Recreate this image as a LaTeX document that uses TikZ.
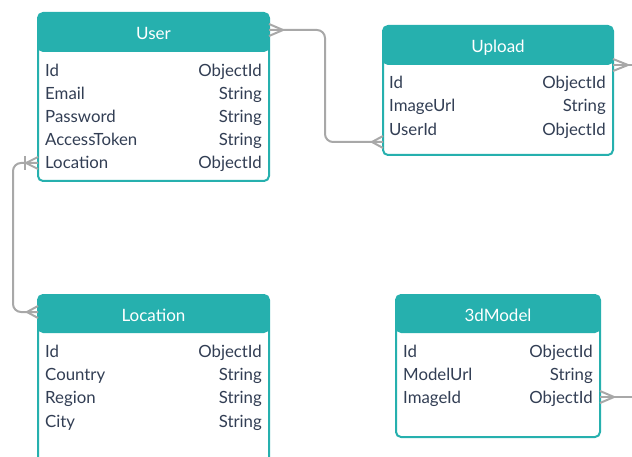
\documentclass[tikz,border=0pt]{standalone}
\usepackage{fontspec}
\setmainfont{Lato}
\usepackage{tikz}
\usetikzlibrary{positioning}

\definecolor{tealhead}{RGB}{38,176,174}
\definecolor{rowtext}{RGB}{50,62,84}
\definecolor{linkgray}{RGB}{168,168,168}

\tikzset{
  tbl/.style={draw=tealhead, line width=2pt, fill=white, rounded corners=5pt,
    anchor=north west, inner sep=0pt, outer sep=0pt,
    path picture={\fill[tealhead] ([yshift=2pt]path picture bounding box.north west)
      rectangle ([yshift=-#1]path picture bounding box.north east);}},
  title/.style={text=white, font=\fontsize{17}{19}\selectfont, inner sep=0pt,
    text height=12pt, text depth=0pt},
  field/.style={text=rowtext, font=\fontsize{16.8}{19}\selectfont, inner sep=0pt,
    text height=12pt, text depth=0pt},
  link/.style={draw=linkgray, line width=2pt}
}

\begin{document}
\begin{tikzpicture}[x=1pt, y=-1pt]

\useasboundingbox (0,0) rectangle (632,457);
\clip (0,0) rectangle (632,457);

% tables
\node[tbl=39pt, minimum width=231pt, minimum height=168pt] (user) at (38,13) {};
\node[tbl=39pt, minimum width=230pt, minimum height=129pt] (upload) at (383,26) {};
\node[tbl=38pt, minimum width=231pt, minimum height=190pt] (location) at (38,295) {};
\node[tbl=38pt, minimum width=204pt, minimum height=142pt] (model) at (396,295) {};

\node[title] (user-title) at ([yshift=-20.5pt]user.north) {User};
\node[title] (upload-title) at ([yshift=-20.5pt]upload.north) {Upload};
\node[title] (location-title) at ([yshift=-20pt]location.north) {Location};
\node[title] (model-title) at ([yshift=-20pt]model.north) {3dModel};

% fields
\foreach \y/\l/\r [count=\i] in {70.5/Id/ObjectId, 93.5/Email/String, 116.5/Password/String,
    139.5/AccessToken/String, 163/Location/ObjectId}{
  \node[field, anchor=west] (user-f\i) at (45,\y) {\l};
  \node[field, anchor=east] (user-t\i) at (262,\y) {\r};
}
\foreach \y/\l/\r [count=\i] in {82.5/Id/ObjectId, 105.5/ImageUrl/String, 130/UserId/ObjectId}{
  \node[field, anchor=west] (upload-f\i) at (389,\y) {\l};
  \node[field, anchor=east] (upload-t\i) at (606,\y) {\r};
}
\foreach \y/\l/\r [count=\i] in {351.5/Id/ObjectId, 374.5/Country/String, 397.5/Region/String,
    421/City/String}{
  \node[field, anchor=west] (location-f\i) at (45,\y) {\l};
  \node[field, anchor=east] (location-t\i) at (262,\y) {\r};
}
\foreach \y/\l/\r [count=\i] in {351.5/Id/ObjectId, 374.5/ModelUrl/String, 397.5/ImageId/ObjectId}{
  \node[field, anchor=west] (model-f\i) at (403,\y) {\l};
  \node[field, anchor=east] (model-t\i) at (593,\y) {\r};
}

% link ends
\coordinate (user-link) at ([yshift=-17pt]user.north east);
\coordinate (upload-link) at ([yshift=13pt]upload.south west);
\coordinate (user-loc) at ([yshift=18pt]user.south west);
\coordinate (loc-link) at ([yshift=-17pt]location.north west);
\coordinate (upload-out) at ([yshift=-39pt]upload.north east);
\coordinate (upload-end) at (640,65);
\coordinate (model-link) at ([yshift=40pt]model.south east);
\coordinate (model-end) at (640,397);

% User -- Upload
\draw[link, rounded corners=8pt] (user-link) -| ([xshift=-58pt]upload-link) -- (upload-link);
\draw[link] ([yshift=6pt]user-link) -- ([xshift=14pt]user-link) -- ([yshift=-6pt]user-link);
\draw[link] ([yshift=6pt]upload-link) -- ([xshift=-11pt]upload-link) -- ([yshift=-6pt]upload-link);

% User -- Location
\draw[link, rounded corners=8pt] (user-loc) -- ([xshift=-25pt]user-loc) |- (loc-link);
\draw[link] ([yshift=6pt]user-loc) -- ([xshift=-12pt]user-loc) -- ([yshift=-6pt]user-loc);
\draw[link] ([xshift=-13pt,yshift=7pt]user-loc) -- ([xshift=-13pt,yshift=-7pt]user-loc);
\draw[link] ([yshift=6pt]loc-link) -- ([xshift=-11pt]loc-link) -- ([yshift=-6pt]loc-link);

% Upload and 3dModel outgoing
\draw[link] (upload-out) -- (upload-end);
\draw[link] ([yshift=6pt]upload-out) -- ([xshift=15pt]upload-out) -- ([yshift=-6pt]upload-out);
\draw[link] (model-link) -- (model-end);
\draw[link] ([yshift=6pt]model-link) -- ([xshift=14pt]model-link) -- ([yshift=-6pt]model-link);

\end{tikzpicture}
\end{document}
